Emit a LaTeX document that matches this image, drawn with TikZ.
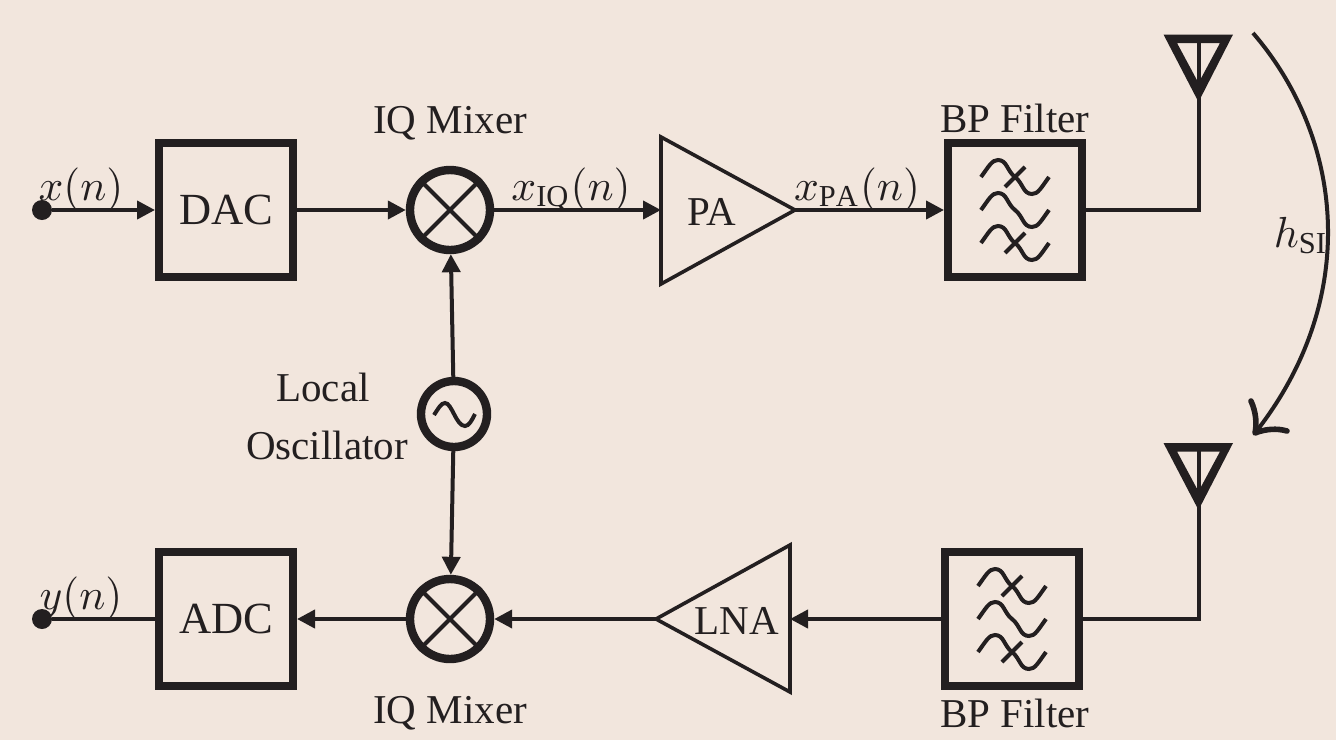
\documentclass[tikz,border=0pt]{standalone}
\usepackage{fontspec}
\setmainfont{Liberation Serif}
\usetikzlibrary{arrows.meta}
\definecolor{bgc}{HTML}{F2E6DD}
\definecolor{ink}{HTML}{231F20}
\tikzset{
  thin wire/.style={line width=4pt,draw=ink},
  wire/.style={thin wire,-{Triangle[length=18pt,width=18pt]}},
  blockbox/.style={draw=ink,line width=8.4pt,minimum size=133.6pt,inner sep=0pt,text=ink,font=\fontsize{44.5}{50}\selectfont},
  mixnode/.style={circle,draw=ink,line width=8.4pt,minimum size=80pt,inner sep=0pt},
  lonode/.style={circle,draw=ink,line width=8.4pt,minimum size=66pt,inner sep=0pt},
  label text/.style={text=ink,inner sep=0pt,anchor=base},
  amp/.style={draw=ink,line width=3.6pt,line join=miter},
  dotnode/.style={circle,fill=ink,minimum size=20pt,inner sep=0pt},
}
\newcommand{\mathlabel}[1]{\scalebox{4.35}{\fontsize{10}{12}\selectfont$#1$}}
\newcommand{\wavepath}[2]{% centre x, centre y
  \draw[thin wire] (#1-34,#2) .. controls (#1-26,#2-11) and (#1-23,#2-17) .. (#1-17,#2-17)
    .. controls (#1-8,#2-17) and (#1-8,#2-6) .. (#1,#2)
    .. controls (#1+8,#2+6) and (#1+8,#2+17) .. (#1+17,#2+17)
    .. controls (#1+23,#2+17) and (#1+26,#2+11) .. (#1+34,#2);}
\newcommand{\filtersym}[2]{%
  \wavepath{#1}{#2-33}\wavepath{#1}{#2}\wavepath{#1}{#2+33}
  \draw[thin wire] (#1-10,#2-23) -- (#1+10,#2-43);
  \draw[thin wire] (#1-10,#2+43) -- (#1+10,#2+23);}
\begin{document}
\begin{tikzpicture}[x=1pt,y=-1pt,font=\fontsize{41}{46}\selectfont]
\fill[bgc] (0,0) rectangle (1336,740);
\useasboundingbox (0,0) rectangle (1336,740);
% blocks
\node[blockbox] (dac) at (226,210) {DAC};
\node[blockbox] (adc) at (226,619) {ADC};
\node[blockbox] (ft) at (1015,210) {};
\node[blockbox] (fb) at (1012,619) {};
\node[mixnode] (mt) at (450,210) {};
\node[mixnode] (mb) at (450,619) {};
\node[lonode] (lo) at (454,414) {};
\node[dotnode] (dx) at (42,210) {};
\node[dotnode] (dy) at (42,619) {};
% amplifiers
\draw[amp] (661,137) -- (661,284) -- (795,210) coordinate (par) -- cycle;
\draw[amp] (790,545) -- (790,692) -- (656,619) coordinate (lnal) -- cycle;
\coordinate (paw) at (661,210);
\coordinate (lnar) at (790,619);
\node[label text] (patext) at (712,225) {PA};
\node[label text] (lnatext) at (737,634) {LNA};
% mixer crosses
\foreach \m in {mt,mb}{
  \draw[thin wire] (\m.45) -- (\m.225);
  \draw[thin wire] (\m.135) -- (\m.315);
}
% oscillator symbol
\draw[thin wire] (434,415) .. controls (438,409) and (441,403) .. (445,403)
  .. controls (452,403) and (456,426) .. (465,426)
  .. controls (469,426) and (472,420) .. (475,414);
% filter symbols
\filtersym{1015}{210}
\filtersym{1012}{619}
% antennas
\fill[ink,even odd rule] (1163.5,34.5) -- (1233,34.5) -- (1198.5,102) coordinate (ta) -- cycle
  (1177,43) -- (1220,43) -- (1198.5,83) -- cycle;
\fill[ink,even odd rule] (1163.5,443) -- (1233,443) -- (1198.5,510) coordinate (ba) -- cycle
  (1177,451.5) -- (1220,451.5) -- (1198.5,491.5) -- cycle;
\coordinate (tt) at (1198.5,40);
\coordinate (bt) at (1198.5,448);
\draw[thin wire] (tt) -- (ta);
\draw[thin wire] (bt) -- (ba);
\draw[thin wire,line join=miter] (ft.east) -| (ta);
\draw[thin wire,line join=miter] (fb.east) -| (ba);
% connectors
\draw[wire] (dx) -- (dac);
\draw[wire] (dac) -- (mt);
\draw[wire] (mt) -- (paw);
\draw[wire] (par) -- (ft);
\draw[wire] (lo) -- (mt);
\draw[wire] (lo) -- (mb);
\draw[wire] (fb) -- (lnar);
\draw[wire] (lnal) -- (mb);
\draw[wire] (mb) -- (adc);
\draw[thin wire] (adc) -- (dy);
% over the air path
\coordinate (hs) at (1253,33);
\coordinate (he) at (1255,433);
\coordinate (hb1) at (1251,401);
\coordinate (hb2) at (1287,431);
\draw[line width=4pt,draw=ink] (hs) .. controls (1345,140) and (1360,300) .. (he);
\draw[line width=5.6pt,draw=ink,line cap=round,line join=round] (hb1) .. controls (1256,412) and (1257,424) .. (he) .. controls (1265,429) and (1277,428) .. (hb2);
% labels
\node[label text] (lm1) at (450,133) {IQ Mixer};
\node[label text] (lm2) at (450,723) {IQ Mixer};
\node[label text] (lf1) at (1015,132) {BP Filter};
\node[label text] (lf2) at (1015,727) {BP Filter};
\node[label text] (ll1) at (323,401) {Local};
\node[label text] (ll2) at (327,459) {Oscillator};
\node[label text] (sx) at (81,200) {\mathlabel{x(n)}};
\node[label text] (sy) at (81,609) {\mathlabel{y(n)}};
\node[label text] (siq) at (571,200) {\mathlabel{x_{\mathrm{IQ}}(n)}};
\node[label text] (spa) at (857,200) {\mathlabel{x_{\mathrm{PA}}(n)}};
\node[label text] (shs) at (1301,247) {\mathlabel{h_{\mathrm{SI}}}};
\end{tikzpicture}
\end{document}
